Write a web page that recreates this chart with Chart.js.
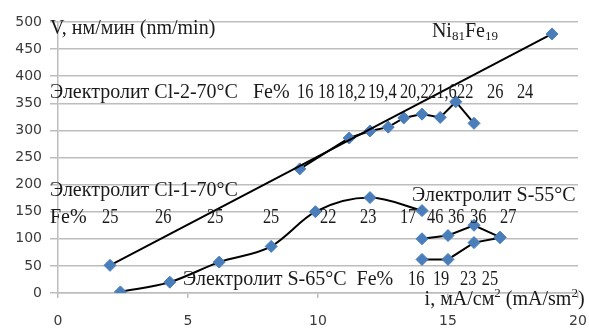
<!DOCTYPE html>
<html>
<head>
<meta charset="utf-8">
<script src="https://cdn.jsdelivr.net/npm/chart.js@4"></script>
<style>
  html, body { margin: 0; padding: 0; background: #fff; }
</style>
</head>
<body>
<canvas id="chart" width="589" height="329"></canvas>
<script>
// Ni81Fe19 reference line
const niFeX = [2, 19];
const niFeY = [51, 478];
// Электролит Cl-2-70°C
const cl2X = [9.3, 11.2, 12.0, 12.7, 13.3, 14.0, 14.7, 15.3, 16.0];
const cl2Y = [229, 286, 299, 306, 323, 330, 324, 353, 313];
const cl2Fe = ['16', '18', '18,2', '19,4', '20,2', '21,6', '22', '26', '24'];
// Электролит Cl-1-70°C
const cl1X = [2.4, 4.3, 6.2, 8.2, 9.9, 12.0, 14.0];
const cl1Y = [2, 20, 57, 86, 150, 176, 152];
const cl1Fe = ['25', '26', '25', '25', '22', '23', '17'];
// Электролит S-55°C
const s55X = [14, 15, 16, 17];
const s55Y = [100, 106, 125, 103];
const s55Fe = ['46', '36', '36', '27'];
// Электролит S-65°C
const s65X = [14, 15, 16, 17];
const s65Y = [62, 62, 93, 102];
const s65Fe = ['16', '19', '23', '25'];

const yTicks = [0, 50, 100, 150, 200, 250, 300, 350, 400, 450, 500];
const xTicks = [0, 5, 10, 15, 20];

// where the text labels sit, in axis units
const cl2FeAt = [9.19, 10.0, 10.73, 11.92, 13.15, 14.23, 15.35, 16.5, 17.65];
const cl1FeAt = [1.69, 3.73, 5.73, 7.88, 10.08, 11.62, 13.15];
const s55FeAt = [14.19, 15.0, 15.85, 17.0];
const s65FeAt = [13.46, 14.42, 15.46, 16.3];

const SERIF = '"Liberation Serif", "Times New Roman", serif';

const notes = [
    { parts: [{ t: 'V, нм/мин (nm/min)' }], x: -0.31, y: 487 },
    { parts: [{ t: 'Ni' }, { t: '81', sub: true }, { t: 'Fe' }, { t: '19', sub: true }], x: 14.38, y: 482 },
    { parts: [{ t: 'Электролит Cl-2-70°C' }], x: -0.31, y: 370 },
    { parts: [{ t: 'Fe%' }], x: 7.5, y: 370 },
    { parts: [{ t: 'Электролит Cl-1-70°C' }], x: -0.31, y: 189 },
    { parts: [{ t: 'Fe%' }], x: -0.31, y: 139 },
    { parts: [{ t: 'Электролит S-55°C' }], x: 13.62, y: 179 },
    { parts: [{ t: 'Электролит S-65°C  Fe%' }], x: 4.81, y: 24 },
    { parts: [{ t: 'i, мА/см' }, { t: '2', sup: true }, { t: ' (mA/sm' }, { t: '2', sup: true }, { t: ')' }], x: 14.1, y: -13 },
];
cl2Fe.forEach((t, i) => notes.push({ parts: [{ t }], x: cl2FeAt[i], y: 370, num: true }));
cl1Fe.forEach((t, i) => notes.push({ parts: [{ t }], x: cl1FeAt[i], y: 139, num: true }));
s55Fe.forEach((t, i) => notes.push({ parts: [{ t }], x: s55FeAt[i], y: 139, num: true }));
s65Fe.forEach((t, i) => notes.push({ parts: [{ t }], x: s65FeAt[i], y: 24, num: true }));

const notesPlugin = {
    id: 'notes',
    afterDatasetsDraw(chart) {
        const { ctx, scales } = chart;
        ctx.save();
        ctx.fillStyle = '#1a1a1a';
        ctx.textBaseline = 'middle';
        ctx.textAlign = 'left';
        notes.forEach(n => {
            const px = scales.x.getPixelForValue(n.x);
            const py = scales.y.getPixelForValue(n.y);
            ctx.save();
            ctx.translate(px, py);
            if (n.num) ctx.scale(0.82, 1);
            let cx = 0;
            n.parts.forEach(p => {
                const small = p.sub || p.sup;
                ctx.font = (small ? 13 : 20) + 'px ' + SERIF;
                const dy = p.sub ? 5 : (p.sup ? -6 : 0);
                ctx.fillText(p.t, cx, dy);
                cx += ctx.measureText(p.t).width;
            });
            ctx.restore();
        });
        ctx.restore();
    }
};

const pts = (xs, ys) => xs.map((x, i) => ({ x, y: ys[i] }));
const series = (label, xs, ys, smooth) => ({
    label,
    data: pts(xs, ys),
    showLine: true,
    cubicInterpolationMode: smooth ? 'monotone' : 'default',
    tension: 0,
    borderColor: '#000',
    borderWidth: 2,
    pointStyle: 'rectRot',
    pointRadius: 6,
    pointBackgroundColor: '#4a7ebb',
    pointBorderColor: '#4a7ebb',
    pointBorderWidth: 1,
});

const GRID = '#bdbdbd';
const TICKFONT = { family: '"DejaVu Sans", sans-serif', size: 14 };

new Chart(document.getElementById('chart').getContext('2d'), {
    type: 'scatter',
    data: {
        datasets: [
            series('Ni81Fe19', niFeX, niFeY, false),
            series('Cl-2-70°C', cl2X, cl2Y, false),
            series('Cl-1-70°C', cl1X, cl1Y, true),
            series('S-55°C', s55X, s55Y, false),
            series('S-65°C', s65X, s65Y, false),
        ],
    },
    options: {
        responsive: false,
        animation: false,
        devicePixelRatio: 1,
        layout: { padding: { left: 0, right: 11, top: 22, bottom: 0 } },
        plugins: { legend: { display: false }, tooltip: { enabled: false } },
        scales: {
            x: {
                type: 'linear',
                min: xTicks[0],
                max: xTicks[xTicks.length - 1],
                afterBuildTicks: s => { s.ticks = xTicks.map(v => ({ value: v })); },
                afterFit: s => { s.height = 36; s.paddingLeft = 0; s.paddingRight = 0; },
                ticks: { color: '#3a3a3a', font: TICKFONT, padding: 15, maxRotation: 0 },
                grid: { drawOnChartArea: false, drawTicks: true, tickLength: 5, color: GRID, lineWidth: 1.5 },
                border: { color: GRID, width: 1.5 },
            },
            y: {
                min: yTicks[0],
                max: yTicks[yTicks.length - 1],
                afterBuildTicks: s => { s.ticks = yTicks.map(v => ({ value: v })); },
                afterFit: s => { s.width = 58; s.paddingTop = 0; s.paddingBottom = 0; },
                ticks: { color: '#3a3a3a', font: TICKFONT, padding: 8 },
                grid: { color: GRID, lineWidth: 1.5, tickLength: 8 },
                border: { color: GRID, width: 1.5 },
            },
        },
    },
    plugins: [notesPlugin],
});
</script>
</body>
</html>
